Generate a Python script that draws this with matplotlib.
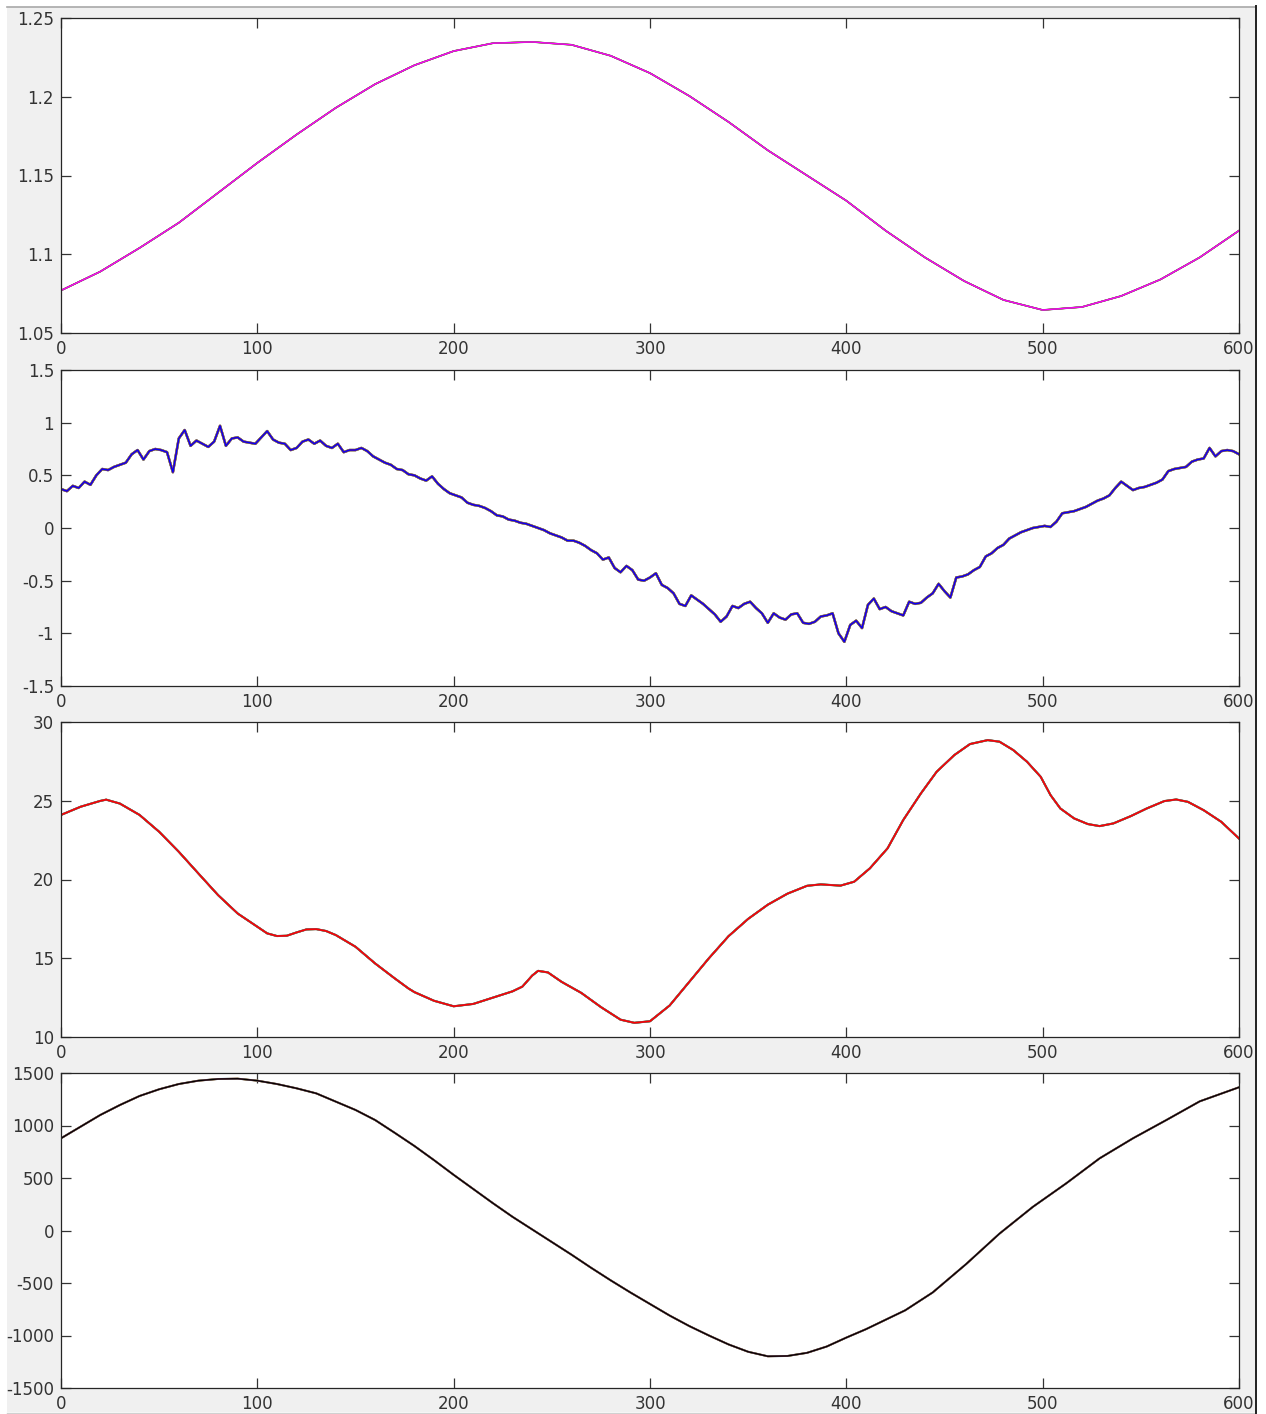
import matplotlib
matplotlib.use("Agg")
import matplotlib.pyplot as plt
from matplotlib.patches import Rectangle
from matplotlib.lines import Line2D

# ---------------- data ----------------
p1_x = [0, 20, 40, 60, 80, 100, 120, 140, 160, 180, 200, 220, 240, 260, 280, 300,
        320, 340, 360, 380, 400, 420, 440, 460, 480, 500, 520, 540, 560, 580, 600]
p1_y = [1.077, 1.089, 1.104, 1.120, 1.139, 1.158, 1.176, 1.193, 1.208, 1.220, 1.229,
        1.234, 1.2348, 1.233, 1.226, 1.215, 1.2005, 1.184, 1.166, 1.150, 1.134, 1.115,
        1.098, 1.083, 1.071, 1.0646, 1.0665, 1.0735, 1.084, 1.098, 1.115]

p2_x = list(range(0, 601, 3))
p2_y = [0.37, 0.35, 0.40, 0.38, 0.44, 0.41, 0.50, 0.56, 0.55, 0.58,
        0.60, 0.62, 0.70, 0.74, 0.65, 0.73, 0.75, 0.74, 0.72, 0.53,
        0.85, 0.93, 0.78, 0.83, 0.80, 0.77, 0.82, 0.97, 0.78, 0.85,
        0.86, 0.82, 0.81, 0.80, 0.86, 0.92, 0.84, 0.81, 0.80, 0.74,
        0.76, 0.82, 0.84, 0.80, 0.83, 0.78, 0.76, 0.80, 0.72, 0.74,
        0.74, 0.76, 0.73, 0.68, 0.65, 0.62, 0.60, 0.56, 0.55, 0.51,
        0.50, 0.47, 0.45, 0.49, 0.42, 0.37, 0.33, 0.31, 0.29, 0.24,
        0.22, 0.21, 0.19, 0.16, 0.12, 0.11, 0.08, 0.07, 0.05, 0.04,
        0.02, 0.00, -0.02, -0.05, -0.07, -0.09, -0.12, -0.12, -0.14, -0.17,
        -0.21, -0.24, -0.30, -0.28, -0.38, -0.42, -0.36, -0.40, -0.49, -0.50,
        -0.47, -0.43, -0.54, -0.57, -0.62, -0.72, -0.74, -0.64, -0.68, -0.72,
        -0.77, -0.82, -0.89, -0.84, -0.74, -0.76, -0.72, -0.70, -0.76, -0.81,
        -0.90, -0.81, -0.85, -0.87, -0.82, -0.81, -0.90, -0.91, -0.89, -0.84,
        -0.83, -0.81, -1.00, -1.08, -0.92, -0.88, -0.95, -0.73, -0.67, -0.77,
        -0.75, -0.79, -0.81, -0.83, -0.70, -0.72, -0.71, -0.66, -0.62, -0.53,
        -0.60, -0.66, -0.47, -0.46, -0.44, -0.40, -0.37, -0.27, -0.24, -0.19,
        -0.16, -0.10, -0.07, -0.04, -0.02, 0.00, 0.01, 0.02, 0.01, 0.06,
        0.14, 0.15, 0.16, 0.18, 0.20, 0.23, 0.26, 0.28, 0.31, 0.38,
        0.44, 0.40, 0.36, 0.38, 0.39, 0.41, 0.43, 0.46, 0.54, 0.56,
        0.57, 0.58, 0.63, 0.65, 0.66, 0.76, 0.68, 0.73, 0.74, 0.73,
        0.70]

p3_x = [0, 10, 20, 23, 30, 40, 50, 60, 70, 80, 90, 100, 105, 110, 115, 120, 125, 130,
        135, 140, 150, 160, 170, 177, 180, 190, 200, 210, 220, 230, 235, 240, 243, 248,
        255, 265, 275, 285, 292, 300, 310, 320, 330, 340, 350, 360, 370, 380, 387, 397,
        404, 412, 421, 429, 438, 446, 455, 463, 472, 478, 485, 492, 499, 504, 509, 516,
        523, 529, 536, 545, 553, 562, 568, 574, 582, 591, 600]
p3_y = [24.1, 24.62, 24.99, 25.07, 24.82, 24.1, 23.03, 21.76, 20.38, 19.01, 17.84,
        17.0, 16.58, 16.41, 16.43, 16.64, 16.83, 16.85, 16.73, 16.47, 15.73, 14.67,
        13.72, 13.08, 12.85, 12.3, 11.95, 12.1, 12.5, 12.9, 13.2, 13.9, 14.2, 14.1,
        13.5, 12.8, 11.9, 11.1, 10.9, 11.0, 12.0, 13.5, 15.0, 16.4, 17.5, 18.4, 19.1,
        19.6, 19.69, 19.61, 19.86, 20.71, 21.98, 23.78, 25.47, 26.84, 27.9, 28.6, 28.85,
        28.75, 28.22, 27.48, 26.52, 25.36, 24.51, 23.88, 23.52, 23.39, 23.56, 24.03,
        24.51, 24.98, 25.08, 24.93, 24.4, 23.66, 22.6]

p4_x = [0, 10, 20, 30, 40, 50, 60, 70, 80, 90, 100, 110, 120, 130, 140, 150, 160, 170,
        180, 190, 200, 210, 220, 230, 240, 250, 260, 270, 280, 290, 300, 310, 320, 330,
        340, 350, 360, 370, 380, 390, 400, 410, 420, 430, 444, 461, 478, 495, 512, 529,
        546, 563, 580, 600]
p4_y = [878, 989, 1100, 1195, 1281, 1345, 1395, 1427, 1443, 1446, 1427, 1395, 1354,
        1306, 1227, 1148, 1052, 930, 805, 670, 530, 395, 260, 130, 10, -110, -230,
        -355, -475, -590, -700, -810, -910, -1000, -1085, -1155, -1198, -1195, -1165,
        -1105, -1020, -940, -850, -760, -590, -320, -30, 225, 449, 687, 878, 1052, 1230,
        1364]

ylims = [(1.05, 1.25), (-1.5, 1.5), (10, 30), (-1500, 1500)]
yticks = [[1.05, 1.1, 1.15, 1.2, 1.25],
          [-1.5, -1, -0.5, 0, 0.5, 1, 1.5],
          [10, 15, 20, 25, 30],
          [-1500, -1000, -500, 0, 500, 1000, 1500]]
ytick_labels = [["1.05", "1.1", "1.15", "1.2", "1.25"],
                ["-1.5", "-1", "-0.5", "0", "0.5", "1", "1.5"],
                ["10", "15", "20", "25", "30"],
                ["-1500", "-1000", "-500", "0", "500", "1000", "1500"]]
xticks = [0, 100, 200, 300, 400, 500, 600]

# ---------------- style ----------------
W, H = 1266, 1414
fig = plt.figure(figsize=(W / 100, H / 100), dpi=100, facecolor="white")
plt.rcParams["font.family"] = ["DejaVu Sans"]

fig.patches.append(Rectangle((7 / W, 1 - 1412 / H), (1255 - 7) / W, (1412 - 7) / H,
                             transform=fig.transFigure, facecolor="#f0f0f0",
                             edgecolor="none", zorder=-10))
fig.lines.append(Line2D([7 / W, 1255 / W], [1 - 6.5 / H, 1 - 6.5 / H],
                        transform=fig.transFigure, color="#a8a8a8", lw=1.2, zorder=-5))
fig.lines.append(Line2D([7 / W, 1255 / W], [1 - 1412.5 / H, 1 - 1412.5 / H],
                        transform=fig.transFigure, color="#d0d0d0", lw=1.0, zorder=-5))
fig.patches.append(Rectangle((1256 / W, 0), (W - 1256) / W, 1,
                             transform=fig.transFigure, facecolor="white",
                             edgecolor="none", zorder=20))
fig.lines.append(Line2D([1255.5 / W, 1255.5 / W], [1 - 1413 / H, 1 - 6 / H],
                        transform=fig.transFigure, color="#202020", lw=1.4, zorder=21))

matlab_cols = ["#0072BD", "#D95319", "#EDB120", "#7E2F8E", "#77AC30", "#4DBEEE", "#A2142F"]
top_cols = ["#FF00FF", "#0000FF", "#FF0000", "#000000"]
xs = [p1_x, p2_x, p3_x, p4_x]
ys = [p1_y, p2_y, p3_y, p4_y]
under_lw = [1.2, 1.8, 1.5, 1.4]
top_lw = [0.9, 0.9, 1.0, 0.9]

tops = [18, 370, 722, 1073]
bots = [333, 686, 1037, 1388]
left, right = 61, 1239
txtc = "#333333"

for i in range(4):
    ax = fig.add_axes([left / W, 1 - bots[i] / H, (right - left) / W, (bots[i] - tops[i]) / H])
    ax.set_facecolor("white")
    for k, c in enumerate(matlab_cols):
        ax.plot(xs[i], ys[i], color=c, lw=under_lw[i] - 0.08 * k)
    ax.plot(xs[i], ys[i], color=top_cols[i], lw=top_lw[i])
    ax.set_xlim(0, 600)
    ax.set_ylim(*ylims[i])
    ax.set_xticks(xticks)
    ax.set_xticklabels([str(v) for v in xticks])
    ax.set_yticks(yticks[i])
    ax.set_yticklabels(ytick_labels[i])
    ax.tick_params(direction="in", length=7.5, width=0.9, colors=txtc, labelsize=12,
                   top=True, right=True, pad=5)
    ax.tick_params(axis="x", pad=5)
    for s in ax.spines.values():
        s.set_color("#262626")
        s.set_linewidth(0.9)

fig.savefig("out.png", dpi=100, facecolor=fig.get_facecolor())
